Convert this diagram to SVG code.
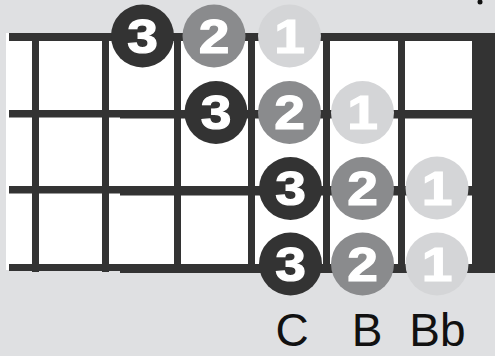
<svg xmlns="http://www.w3.org/2000/svg" width="495" height="356" viewBox="0 0 495 356">
<style>
.ln{fill:#333333}
.f3{fill:#333333}
.f2{fill:#8a8b8d}
.f1{fill:#d4d5d7}
.num{font-family:"Liberation Sans",Arial,sans-serif;font-weight:bold;font-size:48px;fill:#ffffff;stroke:#ffffff;stroke-width:1.2;text-anchor:middle}
.lab{font-family:"Liberation Sans",Arial,sans-serif;font-size:46px;fill:#111111;text-anchor:middle}
</style>
<rect x="0" y="0" width="495" height="356" fill="#dfe0e2"/>
<circle cx="480" cy="2" r="2.5" fill="#111111"/>
<g id="fretboard">
<rect x="6" y="33" width="466" height="237" fill="#ffffff"/>
<rect class="ln" x="9" y="33" width="465" height="8"/>
<rect class="ln" x="9" y="110" width="111" height="7.5"/>
<rect class="ln" x="120" y="110" width="354" height="8.5"/>
<rect class="ln" x="9" y="186" width="111" height="7.5"/>
<rect class="ln" x="120" y="186" width="354" height="9.5"/>
<rect class="ln" x="9" y="264" width="111" height="7"/>
<rect class="ln" x="120" y="264" width="354" height="9"/>
<rect class="ln" x="32" y="33" width="7" height="239"/>
<rect class="ln" x="102" y="33" width="7" height="239"/>
<rect class="ln" x="174" y="33" width="7" height="239"/>
<rect class="ln" x="248" y="33" width="7" height="239"/>
<rect class="ln" x="323" y="33" width="7" height="239"/>
<rect class="ln" x="398" y="33" width="7" height="239"/>
<rect class="ln" x="472" y="33" width="23" height="240"/>
</g>
<g id="connectors"></g>
<g id="r0c1"><circle class="f3" cx="142.5" cy="36" r="31.5"/><text class="num" transform="translate(142.5 52.5) scale(1.15 1)">3</text></g>
<g id="r0c2"><circle class="f2" cx="214" cy="36" r="31.5"/><text class="num" transform="translate(214 52.5) scale(1.15 1)">2</text></g>
<g id="r0c3"><circle class="f1" cx="289.5" cy="36" r="31.5"/><text class="num" transform="translate(289.5 52.5) scale(1.15 1)">1</text></g>
<g id="r1c2"><circle class="f3" cx="216" cy="112.5" r="31.5"/><text class="num" transform="translate(216 129) scale(1.15 1)">3</text></g>
<g id="r1c3"><circle class="f2" cx="289.5" cy="112.5" r="31.5"/><text class="num" transform="translate(289.5 129) scale(1.15 1)">2</text></g>
<g id="r1c4"><circle class="f1" cx="362.5" cy="112.5" r="31.5"/><text class="num" transform="translate(362.5 129) scale(1.15 1)">1</text></g>
<g id="r2c3"><circle class="f3" cx="290.5" cy="188.5" r="31.5"/><text class="num" transform="translate(290.5 205) scale(1.15 1)">3</text></g>
<g id="r2c4"><circle class="f2" cx="362.5" cy="188.5" r="31.5"/><text class="num" transform="translate(362.5 205) scale(1.15 1)">2</text></g>
<g id="r2c5"><circle class="f1" cx="437" cy="188" r="31.5"/><text class="num" transform="translate(437 204.5) scale(1.15 1)">1</text></g>
<g id="r3c3"><circle class="f3" cx="290.5" cy="264" r="31.5"/><text class="num" transform="translate(290.5 280.5) scale(1.15 1)">3</text></g>
<g id="r3c4"><circle class="f2" cx="362.5" cy="264" r="31.5"/><text class="num" transform="translate(362.5 280.5) scale(1.15 1)">2</text></g>
<g id="r3c5"><circle class="f1" cx="437" cy="264" r="31.5"/><text class="num" transform="translate(437 280.5) scale(1.15 1)">1</text></g>
<g id="labels">
<text class="lab" x="292" y="346">C</text>
<text class="lab" x="367" y="346">B</text>
<text class="lab" x="437.5" y="346">Bb</text>
</g>
</svg>
